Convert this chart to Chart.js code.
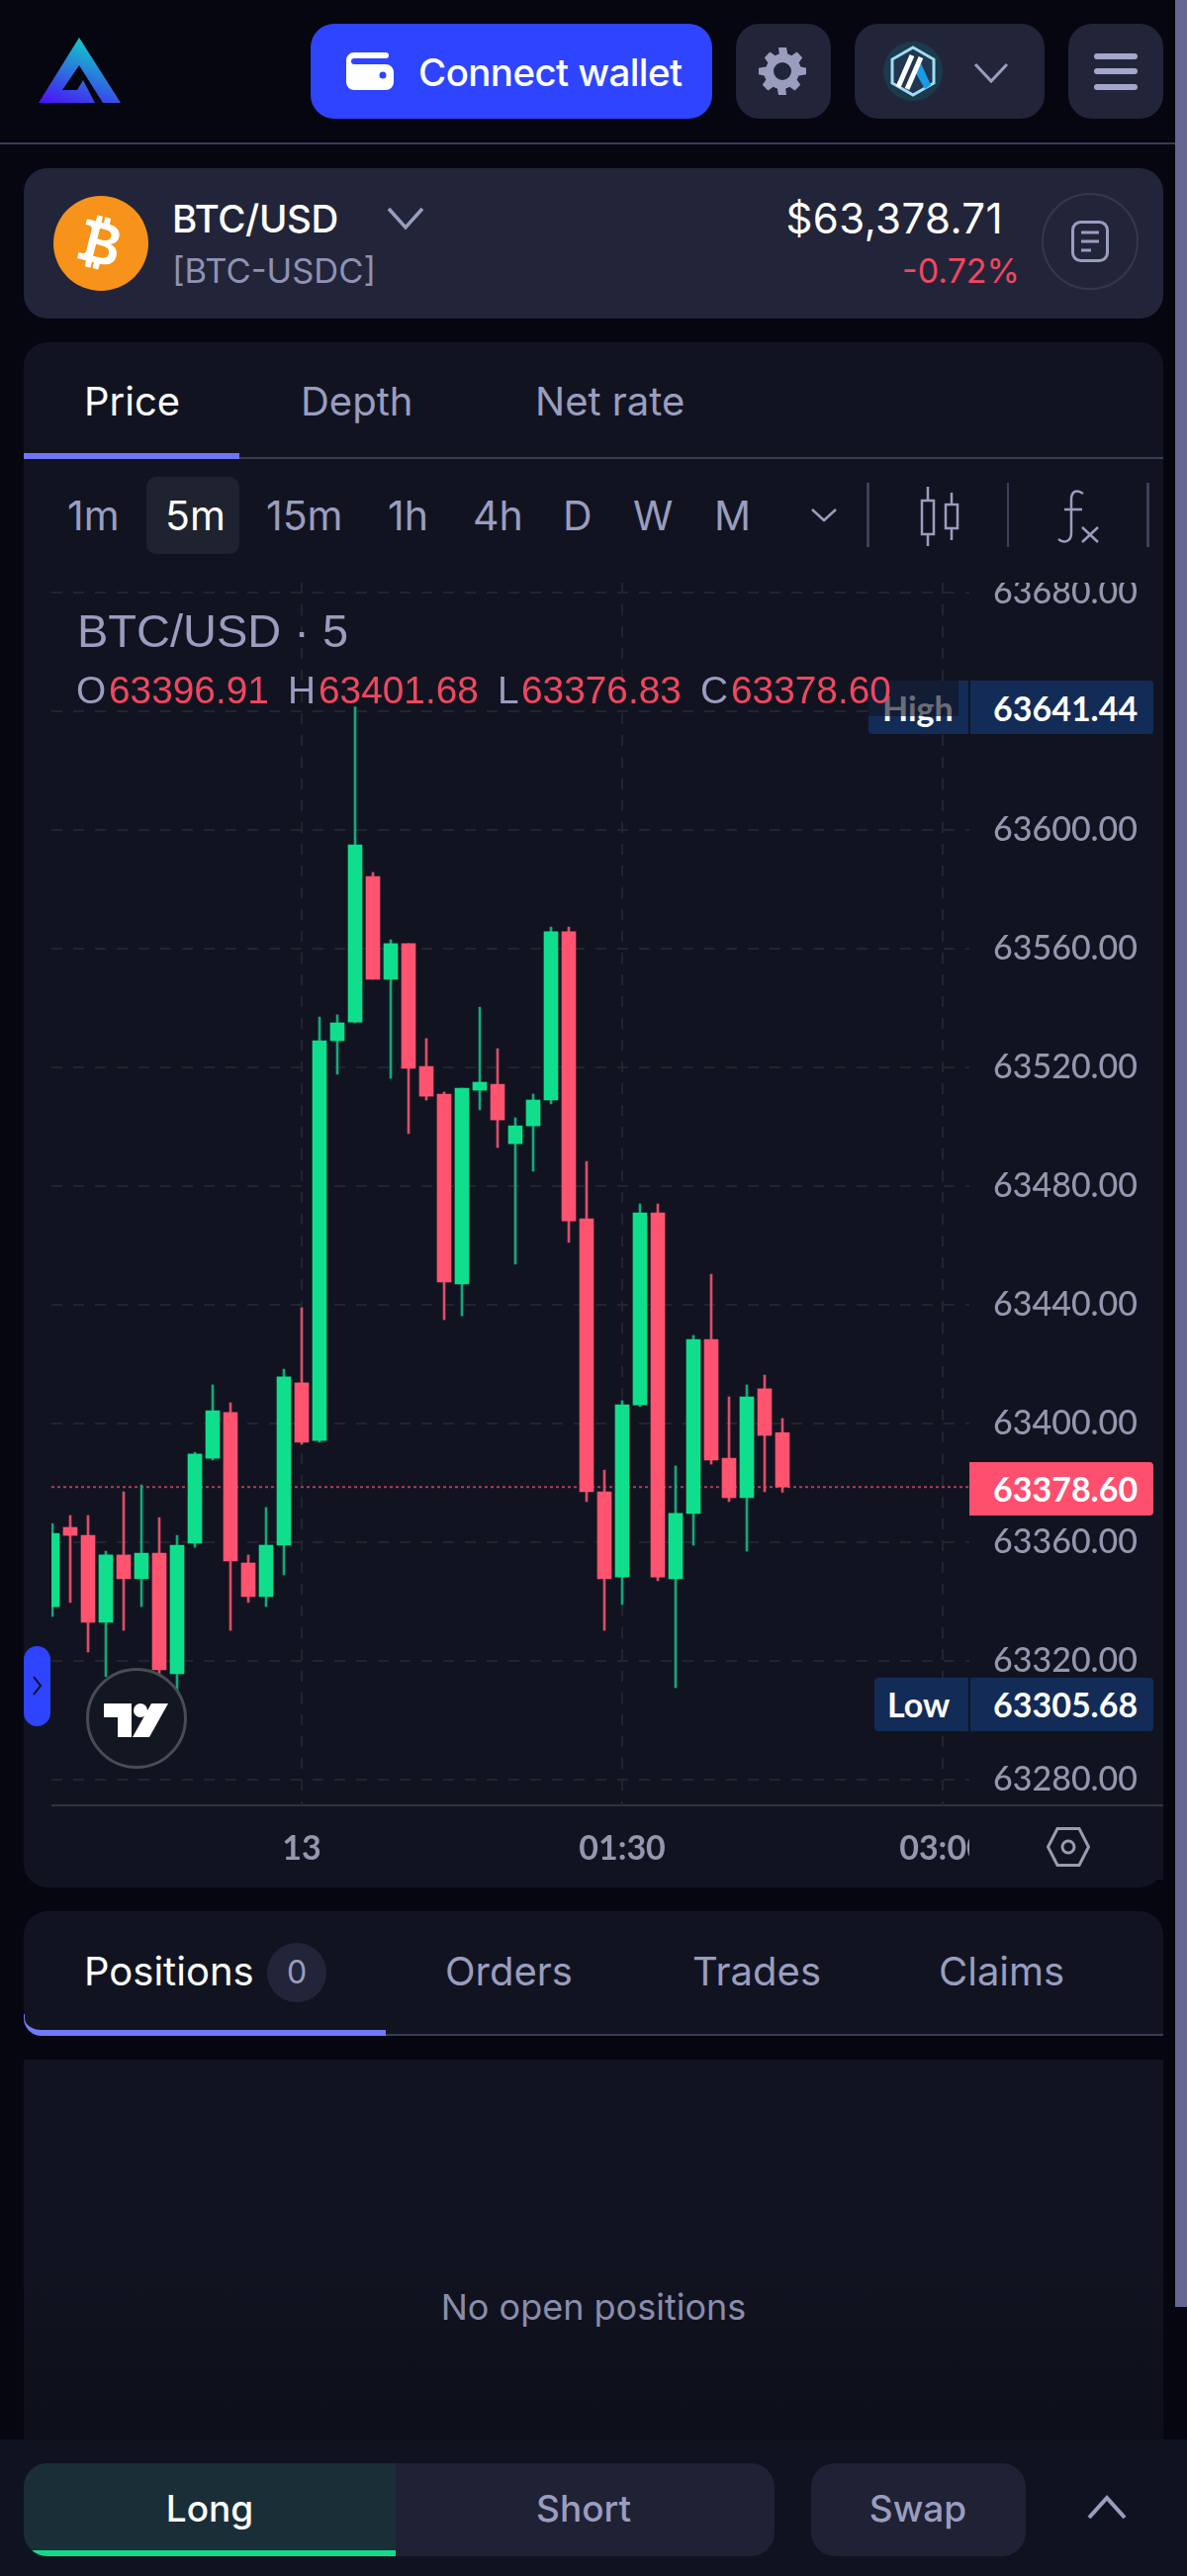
<!DOCTYPE html>
<html><head><meta charset="utf-8">
<script src="https://cdn.jsdelivr.net/npm/chart.js@4"></script>
<style>
html,body{margin:0;padding:0;width:1200px;height:2604px;overflow:hidden;background:#05060f;font-family:Inter,"Noto Sans",sans-serif}
.a{position:absolute}
.t{position:absolute;white-space:nowrap;line-height:1;transform:translateY(-50%);font-size:40px;color:#9a9dbe;font-weight:400}
.tc{transform:translate(-50%,-50%)}
.w{color:#fff}
.card{background:#222539;border-radius:24px}
.panel{background:#111420}
.ax{font-family:Lato,sans-serif;font-size:34px;font-weight:400}
.leg{font-family:"Liberation Sans",Arial,sans-serif;font-size:38.8px}
.red{color:#f0475f}
svg{position:absolute;overflow:visible}
</style></head><body>

<!-- header -->
<svg style="left:0;top:0" width="200" height="144">
<defs><linearGradient id="lg" x1="0.1" y1="1" x2="0.55" y2="0"><stop offset="0" stop-color="#4a14f5"/><stop offset="1" stop-color="#10cfc8"/></linearGradient></defs>
<path d="M80 38 L122 104 L104 104 L80 66 L63 91 L78 91 L84 81 L96 104 L39 104 Z" fill="url(#lg)"/>
</svg>
<div class="a" style="left:314px;top:24px;width:406px;height:96px;background:#2e44ff;border-radius:24px"></div>
<svg style="left:350px;top:53px" width="48" height="38"><path d="M8 0H40a3 3 0 0 1 0 6H8a3 3 0 0 0 0 6H40a8 8 0 0 1 8 8V30a8 8 0 0 1-8 8H8a8 8 0 0 1-8-8V8a8 8 0 0 1 8-8Z" fill="#fff"/><circle cx="37" cy="23" r="3.5" fill="#2e44ff"/></svg>
<div class="t w" style="left:423px;top:73px;font-size:38.500px;font-weight:500;letter-spacing:-.6px">Connect wallet</div>
<div class="a card" style="left:744px;top:24px;width:96px;height:96px"></div>
<svg style="left:767px;top:48px" width="48" height="48" viewBox="0 0 24 24"><path fill="#9a9dbe" fill-rule="evenodd" d="M10 0h4l.6 3.2c.7.2 1.4.5 2 .9l2.700-1.800 2.800 2.800-1.800 2.700c.4.600.7 1.300.9 2L24 10.400v3.200l-3.800.6c-.2.700-.5 1.400-.9 2l1.800 2.700-2.800 2.800-2.700-1.800c-.6.400-1.300.7-2 .9L14 24h-4l-.6-3.200c-.7-.2-1.400-.5-2-.9l-2.700 1.800-2.800-2.800 1.800-2.700c-.4-.6-.7-1.300-.9-2L0 13.600v-3.200l3.800-.6c.2-.7.5-1.400.9-2L2.900 5.100l2.800-2.800 2.700 1.800c.6-.4 1.300-.7 2-.9ZM12 7.500a4.500 4.500 0 1 0 0 9 4.500 4.500 0 0 0 0-9Z"/></svg>
<div class="a card" style="left:864px;top:24px;width:192px;height:96px"></div>
<svg style="left:893px;top:42px" width="60" height="60" viewBox="0 0 60 60"><circle cx="30" cy="30" r="30" fill="#1b3a4c"/><path d="M30 6 L51 18 V42 L30 54 L9 42 V18Z" fill="#23364f" stroke="#9fdcf5" stroke-width="3"/><path d="M33 32 L42 48 L48 44 L38 22Z" fill="#1a9be8"/><path d="M15 46 L29 14 M24 48 L38 16" stroke="#fff" stroke-width="5"/></svg>
<svg style="left:985px;top:64px" width="34" height="20"><path d="M1 1 L17 18 L33 1" fill="none" stroke="#9a9dbe" stroke-width="3"/></svg>
<div class="a card" style="left:1080px;top:24px;width:96px;height:96px"></div>
<div class="a" style="left:1106px;top:54px;width:44px;height:6px;background:#a4a7c9;border-radius:3px"></div>
<div class="a" style="left:1106px;top:69px;width:44px;height:6px;background:#a4a7c9;border-radius:3px"></div>
<div class="a" style="left:1106px;top:85px;width:44px;height:6px;background:#a4a7c9;border-radius:3px"></div>
<div class="a" style="left:0;top:144px;width:1188px;height:2px;background:#3b3a5a"></div>

<!-- market card -->
<div class="a card" style="left:24px;top:170px;width:1152px;height:152px"></div>
<svg style="left:54px;top:198px" width="96" height="96" viewBox="0 0 96 96"><circle cx="48" cy="48" r="48" fill="#f7931a"/><g transform="rotate(14 48 48) translate(15 15) scale(4.100)"><path fill="#fff" d="M5.500 13v1.250c0 .138.112.250.250.250h1a.250.250 0 0 0 .250-.250V13h.500v1.250c0 .138.112.250.250.250h1a.250.250 0 0 0 .250-.250V13h.084c1.992 0 3.416-1.033 3.416-2.820 0-1.502-1.007-2.323-2.186-2.440v-.088c.970-.242 1.683-.974 1.683-2.190C11.997 3.930 10.847 3 9.092 3H9V1.750a.250.250 0 0 0-.250-.250h-1a.250.250 0 0 0-.250.250V3h-.573V1.750a.250.250 0 0 0-.250-.250H5.750a.250.250 0 0 0-.250.250V3l-1.998.011a.250.250 0 0 0-.250.250v.989c0 .137.110.250.248.250l.755-.005a.750.750 0 0 1 .745.750v5.505a.750.750 0 0 1-.750.750l-.748.011a.250.250 0 0 0-.250.250v1c0 .138.112.250.250.250zm1.427-8.513h1.719c.906 0 1.438.498 1.438 1.312 0 .871-.575 1.362-1.877 1.362h-1.280zm0 4.051h1.840c1.137 0 1.756.580 1.756 1.524 0 .953-.626 1.450-2.158 1.450H6.927z"/></g></svg>
<div class="t w" style="left:174px;top:221px;font-size:38.500px;font-weight:500;letter-spacing:-.4px">BTC/USD</div>
<svg style="left:392px;top:210px" width="36" height="22"><path d="M1 1 L18 20 L35 1" fill="none" stroke="#9a9dbe" stroke-width="3.500"/></svg>
<div class="t" style="left:174px;top:274px;font-size:34.500px;color:#8f92b5">[BTC-USDC]</div>
<div class="t w" style="right:186px;top:221px;font-size:42px;letter-spacing:.4px">$63,378.71</div>
<div class="t red" style="right:169px;top:274px;font-size:34px">-0.72%</div>
<div class="a" style="left:1053px;top:195px;width:98px;height:98px;border:2px solid #35374f;border-radius:50%;box-sizing:border-box"></div>
<svg style="left:1083px;top:223px" width="38" height="42"><rect x="1.500" y="1.500" width="35" height="39" rx="8" fill="none" stroke="#9a9dbe" stroke-width="3"/><path d="M10 12H28M10 21H28M10 30H20" stroke="#9a9dbe" stroke-width="3"/></svg>

<!-- chart panel -->
<div class="a panel" style="left:24px;top:346px;width:1152px;height:1562px;border-radius:24px"></div>
<div class="t w" style="left:85px;top:406px">Price</div>
<div class="t" style="left:304px;top:406px">Depth</div>
<div class="t" style="left:541px;top:406px">Net rate</div>
<div class="a" style="left:242px;top:462px;width:934px;height:2px;background:#3a3b58"></div>
<div class="a" style="left:24px;top:458px;width:218px;height:6px;background:#6f76f6"></div>
<div class="a" style="left:148px;top:482px;width:94px;height:78px;background:#1e232f;border-radius:10px"></div>
<div class="t" style="left:68px;top:521px;font-size:41px">1m</div>
<div class="t w" style="left:167px;top:521px;font-size:41px">5m</div>
<div class="t" style="left:269px;top:521px;font-size:41px">15m</div>
<div class="t" style="left:392px;top:521px;font-size:41px">1h</div>
<div class="t" style="left:478px;top:521px;font-size:41px">4h</div>
<div class="t" style="left:569px;top:521px;font-size:41px">D</div>
<div class="t" style="left:640px;top:521px;font-size:41px">W</div>
<div class="t" style="left:722px;top:521px;font-size:41px">M</div>
<svg style="left:820px;top:514px" width="26" height="14"><path d="M1 1 L13 12 L25 1" fill="none" stroke="#9a9dbe" stroke-width="2.500"/></svg>
<div class="a" style="left:876px;top:488px;width:3px;height:65px;background:#3f4058"></div>
<svg style="left:930px;top:492px" width="40" height="60"><g fill="none" stroke="#9a9dbe" stroke-width="2.500"><rect x="2" y="14" width="12" height="34"/><path d="M8 0V14M8 48V60"/><rect x="26" y="18" width="12" height="24"/><path d="M32 6V18M32 42V54"/></g></svg>
<div class="a" style="left:1018px;top:488px;width:2px;height:65px;background:#3f4058"></div>
<svg style="left:1068px;top:495px" width="44" height="54"><g fill="none" stroke="#9a9dbe" stroke-width="2.500"><path d="M27 4C20-1 15 2 15 10V44C15 52 8 55 2 50M8 20H26"/><path d="M26 38L42 53M42 38L26 53"/></g></svg>
<div class="a" style="left:1159px;top:488px;width:3px;height:65px;background:#3f4058"></div>

<!-- axis rule under the plot -->
<div class="a" style="left:52px;top:1824px;width:1124px;height:2px;background:#32343f"></div>

<canvas id="chart" class="a" width="1152" height="1319" style="left:24px;top:589px;width:1152px;height:1319px"></canvas>

<!-- overlays on the plot -->
<div class="a" style="left:980px;top:1830px;width:196px;height:70px;background:#111420"></div>
<svg style="left:1058px;top:1847px" width="44" height="40"><path d="M11 1.500H33L42.500 20L33 38.500H11L1.500 20Z" fill="none" stroke="#9a9cb0" stroke-width="3"/><circle cx="22" cy="20" r="6" fill="none" stroke="#9a9cb0" stroke-width="3"/></svg>

<div class="a" style="left:878px;top:688px;width:288px;height:54px;background:#132c57;border-radius:4px"></div>
<div class="a" style="left:979px;top:688px;width:2px;height:54px;background:#111420"></div>
<div class="t ax w" style="left:892px;top:716px;font-weight:700">High</div>
<div class="a" style="left:878px;top:688px;width:91px;height:36px;background:rgba(17,20,32,.62)"></div>
<div class="t ax w" style="left:1004px;top:716px;font-weight:700">63641.44</div>

<div class="a" style="left:884px;top:1696px;width:282px;height:54px;background:#132c57;border-radius:4px"></div>
<div class="a" style="left:979px;top:1696px;width:2px;height:54px;background:#111420"></div>
<div class="t ax w" style="left:897px;top:1723px;font-weight:700">Low</div>
<div class="t ax w" style="left:1004px;top:1723px;font-weight:700">63305.68</div>

<div class="a" style="left:980px;top:1478px;width:186px;height:54px;background:#ff4f6f;border-radius:0 4px 4px 0"></div>
<div class="t ax w" style="left:1004px;top:1505px;font-weight:700">63378.60</div>

<div class="t leg" style="left:78px;top:637px;font-size:47px">BTC/USD · 5</div>
<div class="t leg" style="left:77px;top:698px">O</div><div class="t leg red" style="left:110px;top:698px">63396.91</div>
<div class="t leg" style="left:291px;top:698px">H</div><div class="t leg red" style="left:322px;top:698px">63401.68</div>
<div class="t leg" style="left:503px;top:698px">L</div><div class="t leg red" style="left:527px;top:698px">63376.83</div>
<div class="t leg" style="left:708px;top:698px">C</div><div class="t leg red" style="left:739px;top:698px">63378.60</div>

<div class="a" style="left:24px;top:1664px;width:27px;height:81px;background:#2e44ff;border-radius:14px"></div>
<svg style="left:33px;top:1694px" width="10" height="20"><path d="M1 1L8 10L1 19" fill="none" stroke="#0d1020" stroke-width="2"/></svg>
<div class="a" style="left:87px;top:1686px;width:102px;height:102px;box-sizing:border-box;border-radius:50%;background:#131722;border:3px solid #4a4c55"></div>
<svg style="left:105px;top:1722px" width="65" height="34"><path d="M0 0H28V34H14V14H0Z M65 0L46 34H29L48 0Z" fill="#fff"/><circle cx="37" cy="7" r="7" fill="#fff"/></svg>

<!-- positions panel -->
<div class="a panel" style="left:24px;top:1932px;width:1152px;height:126px;border-radius:24px 24px 0 24px"></div>
<div class="t w" style="left:85px;top:1993px">Positions</div>
<div class="a" style="left:270px;top:1964px;width:60px;height:60px;border-radius:50%;background:#222539"></div>
<div class="t tc" style="left:300px;top:1994px;font-size:32px">0</div>
<div class="t" style="left:450px;top:1993px">Orders</div>
<div class="t" style="left:700px;top:1993px">Trades</div>
<div class="t" style="left:949px;top:1993px">Claims</div>
<div class="a" style="left:390px;top:2056px;width:786px;height:2px;background:#3a3b58"></div>
<div class="a" style="left:24px;top:2036px;width:366px;height:22px;box-sizing:border-box;border-bottom:6px solid #7079f8;border-left:1px solid #7079f8;border-bottom-left-radius:18px"></div>

<div class="a" style="left:24px;top:2082px;width:1152px;height:384px;background:linear-gradient(#111420 0,#111420 55%,#0c0e19 100%)"></div>
<div class="t tc" style="left:600px;top:2332px;font-size:36px;color:#8a8dab">No open positions</div>

<!-- bottom bar -->
<div class="a" style="left:0;top:2466px;width:1200px;height:138px;background:#0f1320"></div>
<div class="a" style="left:24px;top:2490px;width:759px;height:94px;border-radius:24px;background:#1f2134;overflow:hidden">
  <div class="a" style="left:0;top:0;width:376px;height:94px;background:#1a2e38"></div>
  <div class="a" style="left:8px;top:88px;width:368px;height:6px;background:#12db8a"></div>
</div>
<div class="t tc w" style="left:212px;top:2535px;font-size:37px;font-weight:500">Long</div>
<div class="t tc" style="left:590px;top:2535px;font-size:37px;font-weight:500">Short</div>
<div class="a" style="left:820px;top:2490px;width:217px;height:94px;border-radius:24px;background:#1f2134"></div>
<div class="t tc" style="left:928px;top:2535px;font-size:37px;font-weight:500">Swap</div>
<svg style="left:1099px;top:2523px" width="40" height="24"><path d="M2 22L20 2L38 22" fill="none" stroke="#9a9dbe" stroke-width="4"/></svg>

<!-- scrollbar -->
<div class="a" style="left:1188px;top:0;width:12px;height:2332px;background:#63668f"></div>

<script>
// Bar times, minutes from 00:00 on the 13th
const times  = [-70,-65,-60,-55,-50,-45,-40,-35,-30,-25,-20,-15,-10,-5,0,5,10,15,20,25,30,35,40,45,50,55,60,65,70,75,80,85,90,95,100,105,110,115,120,125,130,135];
const opens  = [63338.3,63365.0,63362.3,63333.0,63355.7,63347.7,63356.3,63315.7,63359.7,63388.3,63403.7,63353.0,63341.7,63359.0,63413.7,63394.3,63529.0,63535.3,63584.3,63549.7,63561.7,63520.3,63511.0,63447.0,63512.3,63514.3,63494.3,63500.3,63509.0,63565.7,63469.0,63377.0,63348.3,63406.3,63471.0,63347.7,63369.7,63428.3,63388.3,63375.0,63411.7,63396.91];
const highs  = [63366.3,63369.0,63369.0,63357.0,63377.0,63379.3,63368.3,63362.3,63390.3,63413.0,63407.0,63355.7,63371.7,63418.3,63439.0,63537.0,63537.7,63641.44,63585.7,63563.0,63561.7,63529.7,63511.7,63513.0,63540.3,63526.3,63503.0,63511.0,63567.3,63567.3,63488.3,63384.3,63407.7,63474.0,63474.0,63385.7,63429.7,63450.3,63409.0,63413.0,63416.3,63401.68];
const lows   = [63335.0,63339.7,63323.0,63314.7,63330.3,63338.3,63315.7,63305.68,63358.3,63387.7,63330.3,63339.7,63338.3,63349.0,63393.0,63393.7,63517.7,63535.0,63549.7,63516.3,63497.7,63509.0,63435.0,63436.3,63505.7,63493.0,63453.7,63485.0,63507.7,63461.0,63373.7,63330.3,63339.0,63405.7,63347.0,63311.0,63359.0,63386.3,63373.7,63357.0,63377.0,63376.83];
const closes = [63363.0,63362.3,63333.0,63355.7,63347.7,63356.3,63317.0,63359.0,63389.7,63404.3,63353.7,63341.7,63359.0,63415.7,63393.7,63529.0,63535.0,63595.0,63549.7,63561.7,63519.7,63510.3,63447.7,63513.0,63515.0,63502.3,63500.3,63509.0,63565.7,63468.3,63377.0,63347.7,63406.3,63471.0,63348.3,63369.7,63428.3,63387.7,63375.0,63409.0,63396.0,63378.60];
const lastPrice = 63378.60;
const xTickLabels = {0:"13", 90:"01:30", 180:"03:00"};
const xRange = [-70.28, 187.5];
const yRange = [63271.33, 63683.33];

const up = i => closes[i] >= opens[i];
const bodyColors = times.map((_, i) => up(i) ? "#0fdf8c" : "#ff5370");
const wickColors = times.map((_, i) => up(i) ? "#12a97a" : "#dd4d69");
const gridStyle = {color:"#22252f", lineWidth:2, drawTicks:false, offset:false};
const noPad = s => { s.paddingTop = s.paddingBottom = s.paddingLeft = s.paddingRight = 0; };

new Chart(document.getElementById("chart"), {
  type: "bar",
  data: { datasets: [
    { label:"body", order:1, grouped:false, barThickness:14, backgroundColor:bodyColors, borderWidth:0,
      data: times.map((t,i)=>({x:t, y:[opens[i], closes[i]]})) },
    { label:"wick", order:2, grouped:false, barThickness:2, backgroundColor:wickColors, borderWidth:0,
      data: times.map((t,i)=>({x:t, y:[lows[i], highs[i]]})) },
    { label:"last", type:"line", order:3, borderColor:"rgba(255,83,112,.65)", borderWidth:2, borderDash:[3,3], pointRadius:0,
      data: [{x:xRange[0], y:lastPrice},{x:xRange[1], y:lastPrice}] }
  ]},
  options: {
    responsive:false, animation:false, devicePixelRatio:1,
    layout:{padding:{left:28,right:0,top:0,bottom:0}},
    plugins:{legend:{display:false},tooltip:{enabled:false}},
    scales:{
      x:{ type:"linear", min:xRange[0], max:xRange[1], offset:false,
        border:{display:false, dash:[11,11]},
        grid:{...gridStyle},
        afterFit(s){ s.height=83; noPad(s); },
        ticks:{ stepSize:90, includeBounds:false, autoSkip:false, maxRotation:0, padding:24, color:"#9497ad",
          font:{family:"Lato",size:34,weight:"bold"}, callback:v=>xTickLabels[v] ?? "" } },
      y:{ position:"right", min:yRange[0], max:yRange[1],
        border:{display:false, dash:[11,11]},
        grid:{...gridStyle},
        afterFit(s){ s.width=196; noPad(s); },
        ticks:{ stepSize:40, includeBounds:false, padding:24, color:"#9497ad",
          font:{family:"Lato",size:34,weight:"500"}, callback:v=>v.toFixed(2) } }
    }
  }
});
</script>
</body></html>
